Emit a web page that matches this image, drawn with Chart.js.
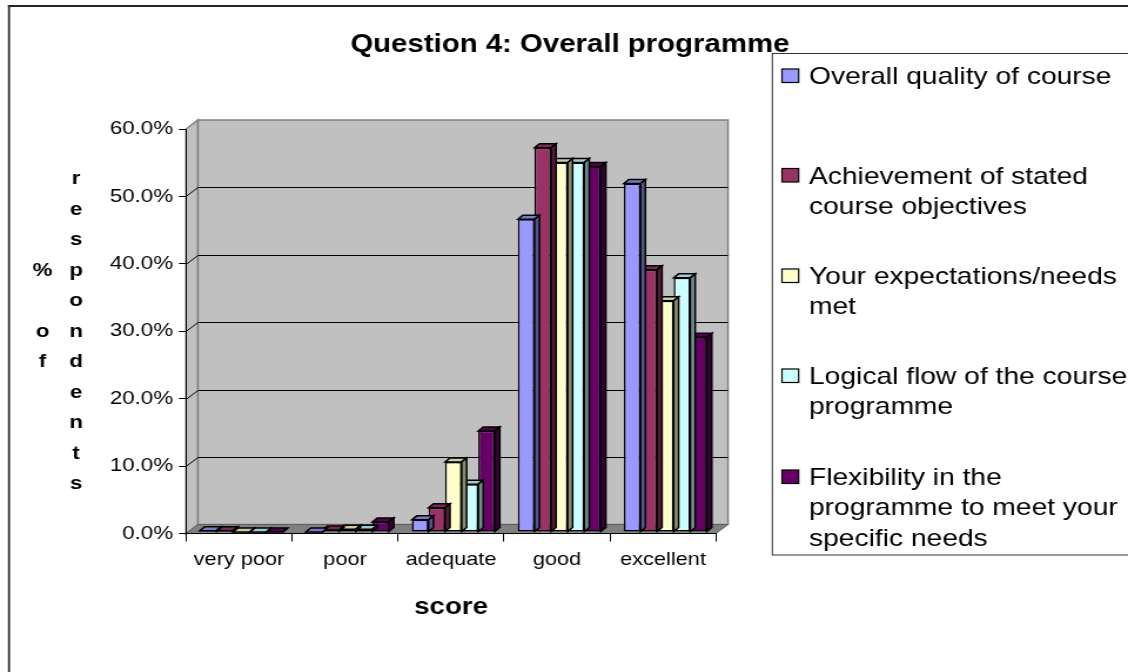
<!DOCTYPE html>
<html>
<head>
<meta charset="utf-8">
<title>Question 4: Overall programme</title>
<script src="https://cdn.jsdelivr.net/npm/chart.js@4.4.0/dist/chart.umd.min.js"></script>
<style>
  html, body { margin: 0; padding: 0; background: #fff; overflow: hidden; }
  /* the original picture is stretched sideways, so the whole chart is too */
  #wrap { width: 960px; height: 672px; transform: scaleX(1.175); transform-origin: 0 0; }
</style>
</head>
<body>
<div id="wrap"><canvas id="chart" width="960" height="672"></canvas></div>
<script>
// --- Data (% of respondents per score) ---
const categories = ['very poor', 'poor', 'adequate', 'good', 'excellent'];
const seriesNames = [
    'Overall quality of course',
    'Achievement of stated course objectives',
    'Your expectations/needs met',
    'Logical flow of the course programme',
    'Flexibility in the programme to meet your specific needs'
];
const overallQuality = [0.2, 0.0, 1.8, 46.4, 51.7];
const courseObjectives = [0.2, 0.3, 3.6, 57.0, 38.9];
const expectationsMet = [0.0, 0.4, 10.4, 54.8, 34.3];
const logicalFlow = [0.0, 0.4, 7.1, 54.8, 37.7];
const flexibility = [0.0, 1.5, 15.0, 54.2, 28.9];
const yTicks = [0, 10, 20, 30, 40, 50, 60];

const seriesColors = ['#9999FF', '#993366', '#FFFFCC', '#CCFFFF', '#660066'];
const FONT = "'Liberation Sans', Arial, sans-serif";

// 3D look: depth of the walls and of each column
const WALL_DX = 10.2, WALL_DY = -9;
const BAR_DX = 4.2, BAR_DY = -4;
const BAR_SHIFT_X = 2, BAR_SHIFT_Y = -1.5;

function shade(hex, f) {
    const n = parseInt(hex.slice(1), 16);
    const r = Math.round(((n >> 16) & 255) * f);
    const g = Math.round(((n >> 8) & 255) * f);
    const b = Math.round((n & 255) * f);
    return `rgb(${r},${g},${b})`;
}

function poly(ctx, pts, fill, stroke, lw) {
    ctx.beginPath();
    ctx.moveTo(pts[0][0], pts[0][1]);
    for (let i = 1; i < pts.length; i++) ctx.lineTo(pts[i][0], pts[i][1]);
    ctx.closePath();
    if (fill) { ctx.fillStyle = fill; ctx.fill(); }
    if (stroke) { ctx.strokeStyle = stroke; ctx.lineWidth = lw || 1; ctx.stroke(); }
}

function wrapText(ctx, text, maxWidth) {
    const words = text.split(' ');
    const lines = [];
    let line = '';
    words.forEach(w => {
        const test = line ? line + ' ' + w : w;
        if (line && ctx.measureText(test).width > maxWidth) {
            lines.push(line);
            line = w;
        } else {
            line = test;
        }
    });
    if (line) lines.push(line);
    return lines;
}

const excel3d = {
    id: 'excel3d',
    beforeDraw(chart) {
        const ctx = chart.ctx;
        const { left, right } = chart.chartArea;
        const y = chart.scales.y;
        const yTop = y.getPixelForValue(60);
        const yBot = y.getPixelForValue(0);

        ctx.save();
        // outer frame (left and top edges show)
        ctx.fillStyle = '#222';
        ctx.fillRect(6.8, 5, 1.7, 667);
        ctx.fillRect(6.8, 5, 954, 2);

        // side wall, back wall, floor
        poly(ctx, [[left, yTop], [left + WALL_DX, yTop + WALL_DY], [left + WALL_DX, yBot + WALL_DY], [left, yBot]], '#c0c0c0', '#808080', 1.5);
        poly(ctx, [[left + WALL_DX, yTop + WALL_DY], [right + WALL_DX, yTop + WALL_DY], [right + WALL_DX, yBot + WALL_DY], [left + WALL_DX, yBot + WALL_DY]], '#c0c0c0', '#808080', 1.5);
        poly(ctx, [[left, yBot], [right, yBot], [right + WALL_DX, yBot + WALL_DY], [left + WALL_DX, yBot + WALL_DY]], '#808080', '#606060', 1);

        // gridlines on the walls
        ctx.strokeStyle = '#000';
        ctx.lineWidth = 1;
        yTicks.forEach(v => {
            if (v === 0 || v === 60) return;
            const py = Math.round(y.getPixelForValue(v)) + 0.5;
            ctx.beginPath();
            ctx.moveTo(left, py);
            ctx.lineTo(left + WALL_DX, py + WALL_DY);
            ctx.lineTo(right + WALL_DX, py + WALL_DY);
            ctx.stroke();
        });
        ctx.restore();
    },
    beforeDatasetsDraw(chart) {
        chart.ctx.save();
        chart.ctx.translate(BAR_SHIFT_X, BAR_SHIFT_Y);
    },
    afterDatasetDraw(chart, args) {
        const ctx = chart.ctx;
        const color = seriesColors[args.index];
        args.meta.data.forEach(el => {
            const { x, y, base, width } = el.getProps(['x', 'y', 'base', 'width'], true);
            const x0 = x - width / 2, x1 = x + width / 2;
            const top = Math.min(y, base);
            poly(ctx, [[x0, top], [x1, top], [x1 + BAR_DX, top + BAR_DY], [x0 + BAR_DX, top + BAR_DY]], shade(color, 0.8), '#000', 1.5);
            poly(ctx, [[x1, top], [x1 + BAR_DX, top + BAR_DY], [x1 + BAR_DX, base + BAR_DY], [x1, base]], shade(color, 0.55), '#000', 1.5);
        });
    },
    afterDatasetsDraw(chart) {
        chart.ctx.restore();
    },
    afterDraw(chart) {
        const ctx = chart.ctx;
        ctx.save();

        // legend
        ctx.strokeStyle = '#333';
        ctx.lineWidth = 1;
        ctx.strokeRect(657.3, 53.5, 400, 501.5);
        ctx.font = `24px ${FONT}`;
        ctx.textAlign = 'left';
        ctx.textBaseline = 'alphabetic';
        const firstBaselines = [84, 183.5, 284, 384, 485];
        chart.data.datasets.forEach((ds, i) => {
            const b = firstBaselines[i];
            ctx.fillStyle = ds.backgroundColor;
            ctx.fillRect(665.5, b - 15, 14.2, 13.5);
            ctx.strokeStyle = '#000';
            ctx.lineWidth = 1.2;
            ctx.strokeRect(665.5, b - 15, 14.2, 13.5);
            ctx.fillStyle = '#000';
            wrapText(ctx, ds.label, 276).forEach((line, j) => {
                ctx.fillText(line, 688.5, b + j * 30.4);
            });
        });

        // chart title
        ctx.font = `bold 25px ${FONT}`;
        ctx.textAlign = 'center';
        ctx.fillStyle = '#000';
        ctx.fillText('Question 4: Overall programme', 485, 52);

        // y axis title, stacked letter by letter in two columns
        ctx.font = `bold 19px ${FONT}`;
        const col1 = ['%', '', 'o', 'f'];
        const col2 = 'respondents'.split('');
        col1.forEach((c, i) => ctx.fillText(c, 36.2, 184 + (i + 3) * 30.5));
        col2.forEach((c, i) => ctx.fillText(c, 64.7, 184 + i * 30.5));

        ctx.restore();
    }
};

const allSeries = [overallQuality, courseObjectives, expectationsMet, logicalFlow, flexibility];

new Chart(document.getElementById('chart'), {
    type: 'bar',
    data: {
        labels: categories,
        datasets: allSeries.map((values, i) => ({
            label: seriesNames[i],
            data: values,
            backgroundColor: seriesColors[i],
            borderColor: '#000',
            borderWidth: 1.5,
            borderSkipped: false,
            categoryPercentage: 0.783,
            barPercentage: 1.0
        }))
    },
    options: {
        responsive: false,
        animation: false,
        layout: { padding: { left: 0, top: 129, right: 350.6, bottom: 0 } },
        plugins: {
            legend: { display: false },
            title: { display: false },
            tooltip: { enabled: false }
        },
        scales: {
            x: {
                grid: { drawOnChartArea: false, drawTicks: true, tickLength: 8, color: '#000', offset: true },
                border: { display: true, color: '#000', width: 1 },
                ticks: { color: '#000', font: { family: FONT, size: 18.5 }, padding: 7, maxRotation: 0, autoSkip: false },
                title: {
                    display: true,
                    text: 'score',
                    color: '#000',
                    font: { family: FONT, size: 23.5, weight: 'bold' },
                    padding: { top: 0, bottom: 50 }
                },
                afterFit: s => { s.height = 138.5; }
            },
            y: {
                min: 0,
                max: 60,
                afterBuildTicks: s => { s.ticks = yTicks.map(v => ({ value: v })); },
                grid: { drawOnChartArea: false, drawTicks: true, tickLength: 6, color: '#000' },
                border: { display: true, color: '#000', width: 1 },
                ticks: {
                    color: '#000',
                    font: { family: FONT, size: 19 },
                    padding: 5,
                    callback: v => v.toFixed(1) + '%'
                },
                afterFit: s => { s.width = 158.3; }
            }
        }
    },
    plugins: [excel3d]
});
</script>
</body>
</html>
